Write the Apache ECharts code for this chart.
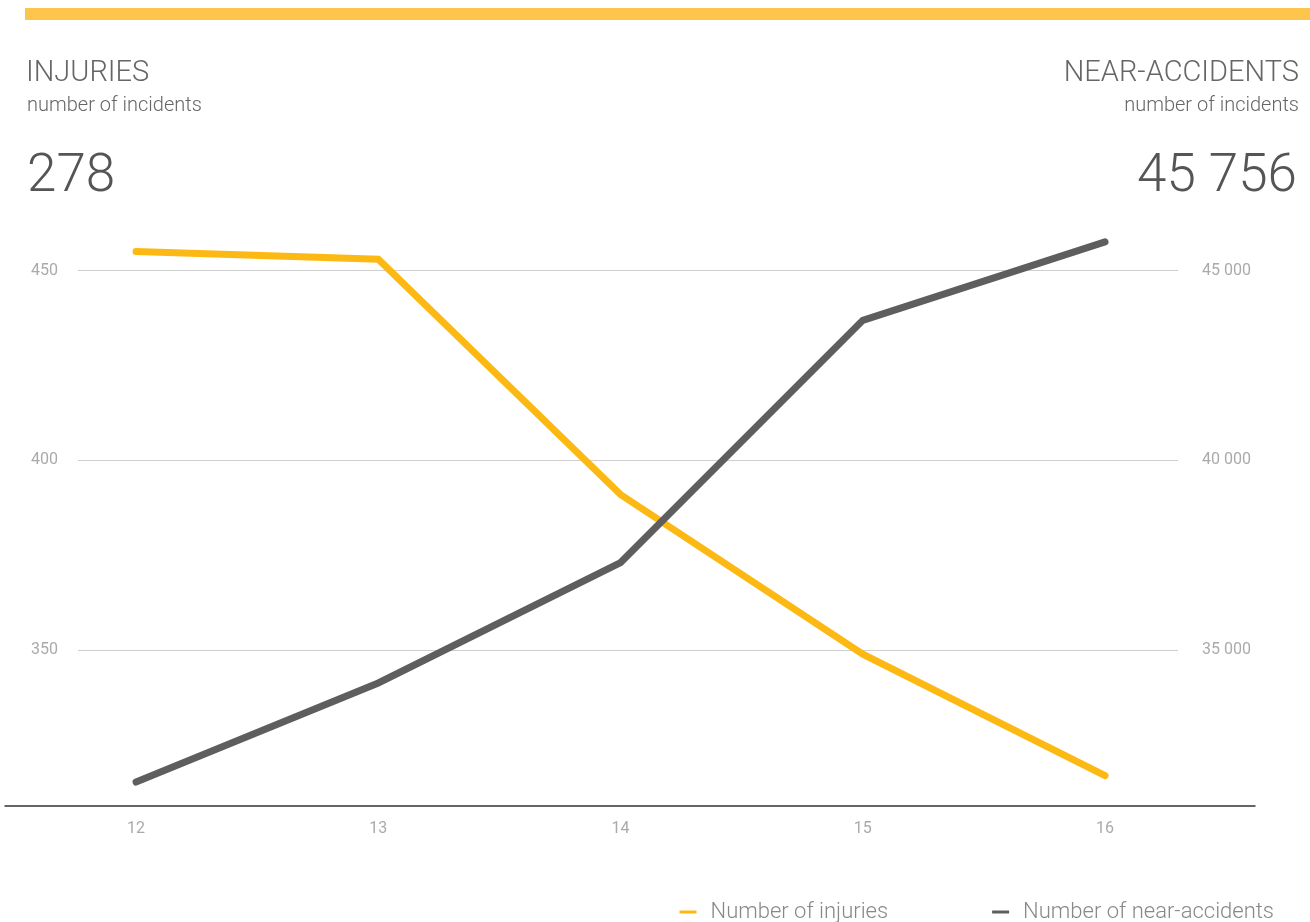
<!DOCTYPE html>
<html>
<head>
<meta charset="utf-8">
<script src="https://cdn.jsdelivr.net/npm/echarts@6/dist/echarts.min.js"></script>
<style>
html,body{margin:0;padding:0;background:#fff;}
#chart{width:1310px;height:922px;}
</style>
</head>
<body>
<div id="chart"></div>
<script>
// ---- data ----
var years = [12, 13, 14, 15, 16];
var injuries = [455, 453, 391, 349, 317];
var nearAccidents = [31530, 34140, 37310, 43690, 45756];
var leftTicks = [350, 400, 450];
var rightTicks = [35000, 40000, 45000];
var seriesNames = ['Number of injuries', 'Number of near-accidents'];
var leftTitle = 'INJURIES', rightTitle = 'NEAR-ACCIDENTS', subTitle = 'number of incidents';
var leftBig = '278', rightBig = '45 756';

var FONT = 'Roboto';
var YELLOW = '#FDB913', GREY = '#5e5e5e';
var LMIN = 309, LMAX = 462, RMIN = 30900, RMAX = 46200;
var XMIN = 11.459, XMAX = 16.619;
var TOP = 225, BOTTOM = 116;

function fmtThousands(v){ return String(v).replace(/\B(?=(\d{3})+(?!\d))/g, ' '); }

var chart = echarts.init(document.getElementById('chart'), null, {renderer:'canvas'});
var option = {
  backgroundColor: '#fff',
  animation: false,
  graphic: [{
    type: 'rect', left: 25, top: 8, shape: {width: 1285, height: 12},
    style: {fill: '#FDC54B'}, silent: true
  }],
  title: [
    {text: leftTitle, left: 26, top: 59, padding: 0, textStyle: {fontFamily: FONT, fontWeight: 300, fontSize: 29, color: '#666'}},
    {text: subTitle, left: 27, top: 96, padding: 0, textStyle: {fontFamily: FONT, fontWeight: 300, fontSize: 20, color: '#666'}},
    {text: leftBig, left: 27, top: 151, padding: 0, textStyle: {fontFamily: FONT, fontWeight: 300, fontSize: 53, color: '#555'}},
    {text: rightTitle, right: 11, top: 59, padding: 0, textStyle: {fontFamily: FONT, fontWeight: 300, fontSize: 29, color: '#666'}},
    {text: subTitle, right: 11, top: 96, padding: 0, textStyle: {fontFamily: FONT, fontWeight: 300, fontSize: 20, color: '#666'}},
    {text: rightBig, right: 13, top: 151, padding: 0, textStyle: {fontFamily: FONT, fontWeight: 300, fontSize: 53, color: '#555'}}
  ],
  legend: {
    right: 31, top: 896, itemGap: 104, itemWidth: 17, itemHeight: 3, icon: 'rect',
    data: seriesNames,
    textStyle: {fontFamily: FONT, fontWeight: 300, fontSize: 22, color: '#888', padding: [0,0,0,9]}
  },
  grid: [
    {left: 78, right: 132, top: TOP, bottom: BOTTOM},
    {left: 5, right: 55, top: TOP, bottom: BOTTOM}
  ],
  xAxis: [
    {gridIndex: 0, type: 'value', min: XMIN, max: XMAX, show: false},
    {gridIndex: 1, type: 'value', min: XMIN, max: XMAX, splitNumber: 5,
      axisLine: {show: true, lineStyle: {color: '#333', width: 1.5}},
      axisTick: {show: false}, splitLine: {show: false},
      axisLabel: {margin: 15, color: '#aaa', fontFamily: FONT, fontSize: 16,
        formatter: function(v){ return years.indexOf(v) >= 0 ? String(v) : ''; }}
    }
  ],
  yAxis: [
    {gridIndex: 0, type: 'value', position: 'left', min: LMIN, max: LMAX, splitNumber: 3,
      axisLine: {show: false}, axisTick: {show: false},
      splitLine: {show: true, showMinLine: false, showMaxLine: false, lineStyle: {color: '#cfcfcf', width: 1}},
      axisLabel: {margin: 20, color: '#aaa', fontFamily: FONT, fontSize: 16,
        formatter: function(v){ return leftTicks.indexOf(v) >= 0 ? String(v) : ''; }}
    },
    {gridIndex: 0, type: 'value', position: 'right', min: RMIN, max: RMAX, splitNumber: 3,
      axisLine: {show: false}, axisTick: {show: false}, splitLine: {show: false},
      axisLabel: {margin: 24, color: '#aaa', fontFamily: FONT, fontSize: 16,
        formatter: function(v){ return rightTicks.indexOf(v) >= 0 ? fmtThousands(v) : ''; }}
    },
    {gridIndex: 1, type: 'value', min: LMIN, max: LMAX, show: false},
    {gridIndex: 1, type: 'value', min: RMIN, max: RMAX, show: false}
  ],
  series: [
    {name: seriesNames[0], type: 'line', xAxisIndex: 1, yAxisIndex: 2,
      data: years.map(function(y, i){ return [y, injuries[i]]; }),
      showSymbol: false, symbol: 'none', color: YELLOW,
      lineStyle: {width: 7, color: YELLOW, cap: 'round', join: 'miter'}},
    {name: seriesNames[1], type: 'line', xAxisIndex: 1, yAxisIndex: 3,
      data: years.map(function(y, i){ return [y, nearAccidents[i]]; }),
      showSymbol: false, symbol: 'none', color: GREY,
      lineStyle: {width: 7, color: GREY, cap: 'round', join: 'miter'}}
  ]
};
chart.setOption(option);
</script>
</body>
</html>
